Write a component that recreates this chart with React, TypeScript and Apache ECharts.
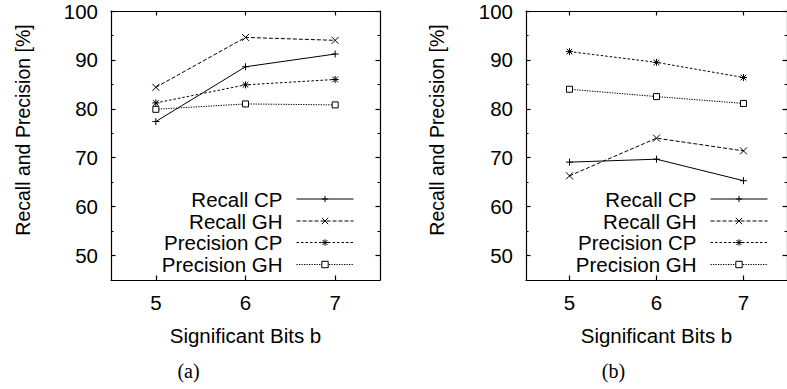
import React, { useEffect, useRef } from "react";
import * as echarts from "echarts";

const bits = [5, 6, 7];
const seriesNames = ["Recall CP", "Recall GH", "Precision CP", "Precision GH"];
// panel (a)
const aRecallCP = [77.4, 88.6, 91.2];
const aRecallGH = [84.4, 94.6, 94.0];
const aPrecisionCP = [81.2, 84.9, 86.0];
const aPrecisionGH = [79.9, 81.0, 80.8];
// panel (b)
const bRecallCP = [69.1, 69.7, 65.3];
const bRecallGH = [66.3, 74.0, 71.4];
const bPrecisionCP = [91.7, 89.5, 86.4];
const bPrecisionGH = [84.0, 82.5, 81.1];

const yMajorTicks = [50, 60, 70, 80, 90, 100];
const yMinorTicks = [55, 65, 75, 85, 95];
const xTicks = [5, 6, 7];
const captions = ["(a)", "(b)"];
const xTitle = "Significant Bits b";
const yTitle = "Recall and Precision [%]";

const FONT = "'Liberation Sans', Arial, Helvetica, sans-serif";
const FS = 20.5;

const symbols = [
  "path://M5,0L5,10M0,5L10,5",
  "path://M0,0L10,10M10,0L0,10",
  "path://M5,0L5,10M0,5L10,5M1,1L9,9M9,1L1,9",
  "path://M0,0L10,0L10,10L0,10Z",
];
const fills = ["#000", "#000", "#000", "#fff"];
const dashes: any[] = ["solid", [4, 2], [2.5, 2], [1.3, 1.2]];

export default function App() {
  const ref = useRef<HTMLDivElement>(null);
  useEffect(() => {
    if (!ref.current) return;
    const chart = echarts.init(ref.current, undefined, { renderer: "svg" });
    const grids = [
      { left: 111, top: 11, right: 407, bottom: 109 },
      { left: 526, top: 11, right: -8, bottom: 109 },
    ];
    const axisLine = { show: true, lineStyle: { color: "#000", width: 1.2 } };
    const xAxis: any[] = [];
    const yAxis: any[] = [];
    grids.forEach((_, g) => {
      xAxis.push({
        type: "value", gridIndex: g, min: 4.5, max: 7.5, position: "bottom",
        axisLine, splitLine: { show: false },
        axisTick: { inside: true, length: 4.5, customValues: xTicks, lineStyle: { color: "#000", width: 1.2 } },
        axisLabel: { customValues: xTicks, margin: 12, color: "#000", fontSize: FS, fontFamily: FONT },
        name: xTitle, nameLocation: "middle", nameGap: 45,
        nameTextStyle: { color: "#000", fontSize: FS, fontFamily: FONT },
      });
      xAxis.push({
        type: "value", gridIndex: g, min: 4.5, max: 7.5, position: "top",
        axisLine, splitLine: { show: false },
        axisTick: { inside: true, length: 4.5, customValues: xTicks, lineStyle: { color: "#000", width: 1.2 } },
        axisLabel: { show: false },
      });
      ["left", "right"].forEach((pos) => {
        yAxis.push({
          type: "value", gridIndex: g, min: 45, max: 100, position: pos,
          axisLine, splitLine: { show: false },
          axisTick: { inside: true, length: 4.5, customValues: yMajorTicks, lineStyle: { color: "#000", width: 1.2 } },
          axisLabel: pos === "left"
            ? { customValues: yMajorTicks, margin: 13, color: "#000", fontSize: FS, fontFamily: FONT }
            : { show: false },
        });
        yAxis.push({
          type: "value", gridIndex: g, min: 45, max: 100, position: pos,
          axisLine: { show: false }, splitLine: { show: false },
          axisTick: { inside: true, length: 2.5, customValues: yMinorTicks, lineStyle: { color: "#000", width: 1 } },
          axisLabel: { show: false },
        });
      });
    });

    const panelData = [
      [aRecallCP, aRecallGH, aPrecisionCP, aPrecisionGH],
      [bRecallCP, bRecallGH, bPrecisionCP, bPrecisionGH],
    ];
    const series: any[] = [];
    panelData.forEach((arrs, g) => {
      arrs.forEach((vals, i) => {
        series.push({
          type: "line", name: seriesNames[i],
          xAxisIndex: g * 2, yAxisIndex: g * 4,
          data: bits.map((b, k) => [b, vals[k]]),
          symbol: symbols[i], symbolSize: i === 3 ? 6 : 7,
          lineStyle: { color: "#000", width: 1, type: dashes[i] },
          itemStyle: { color: fills[i], borderColor: "#000", borderWidth: 1 },
          silent: true,
        });
      });
    });

    const rowCenters = [199, 221, 242.5, 264.5];
    const legendRights = [433, 19];
    const legend: any[] = [];
    legendRights.forEach((r) => {
      seriesNames.forEach((n, i) => {
        legend.push({
          data: [n], orient: "horizontal", align: "right", right: r, top: rowCenters[i] - 11,
          padding: 0, itemWidth: 57, itemHeight: 8, selectedMode: false,
          textStyle: { color: "#000", fontSize: FS, fontFamily: FONT, lineHeight: 22, padding: [0, 9, 0, 0] },
          lineStyle: { type: dashes[i], width: 1, color: "#000" },
          itemStyle: { color: fills[i], borderColor: "#000", borderWidth: 1 },
        });
      });
    });

    chart.setOption({
      animation: false,
      backgroundColor: "#fff",
      grid: grids,
      xAxis, yAxis, series, legend,
      graphic: [
        { type: "text", x: 23, y: 130, rotation: Math.PI / 2,
          style: { text: yTitle, fill: "#000", font: `19.5px ${FONT}`, align: "center", verticalAlign: "middle" } },
        { type: "text", x: 437, y: 130, rotation: Math.PI / 2,
          style: { text: yTitle, fill: "#000", font: `19.5px ${FONT}`, align: "center", verticalAlign: "middle" } },
        { type: "text", x: 188.5, y: 371,
          style: { text: captions[0], fill: "#000", font: `20px 'Liberation Serif', 'Times New Roman', serif`, align: "center", verticalAlign: "middle" } },
        { type: "text", x: 613.5, y: 371,
          style: { text: captions[1], fill: "#000", font: `20px 'Liberation Serif', 'Times New Roman', serif`, align: "center", verticalAlign: "middle" } },
      ],
    });
    return () => chart.dispose();
  }, []);
  return <div ref={ref} style={{ position: "absolute", left: 0, top: 0, width: 787, height: 389 }} />;
}
